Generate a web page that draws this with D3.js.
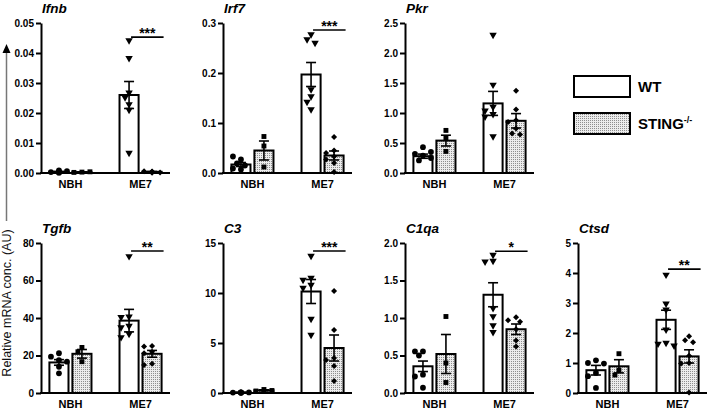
<!DOCTYPE html>
<html>
<head>
<meta charset="utf-8">
<script src="https://cdnjs.cloudflare.com/ajax/libs/d3/7.8.5/d3.min.js"></script>
<style>
  body { margin: 0; background: #fff; }
  svg { display: block; font-family: Arial, "Liberation Sans", sans-serif; }
</style>
</head>
<body>
<div id="chart"></div>
<script>
// qPCR panels, WT vs STING-/- mice, NBH vs ME7 prion
const GENES = ['Ifnb', 'Irf7', 'Pkr', 'Tgfb', 'C3', 'C1qa', 'Ctsd'];
const CONDITIONS = ['NBH', 'ME7'];
const GENOTYPES = ['WT', 'STING'];

const Y_MAX  = [0.05, 0.3, 2.5, 80, 15, 2.0, 5];
const Y_STEP = [0.01, 0.1, 0.5, 20, 5, 0.5, 1];
const Y_FMT  = ['.2f', '.1f', '.1f', 'd', 'd', '.1f', 'd'];

// each gene: [NBH WT, NBH STING, ME7 WT, ME7 STING]
const IFNB = [
  [0.0002, 0.0003, 0.0006, 0.0009, 0.0001, 0.0004],
  [0.0003, 0.0002, 0.0004],
  [0.0442, 0.0383, 0.0268, 0.0252, 0.0229, 0.0210, 0.0067],
  [0.0004, 0.0006, 0.0002, 0.0003, 0.0005, 0.0001]
];
const IRF7 = [
  [0.027, 0.033, 0.019, 0.015, 0.009, 0.007],
  [0.073, 0.054, 0.012],
  [0.277, 0.267, 0.260, 0.167, 0.153, 0.142, 0.127],
  [0.072, 0.045, 0.040, 0.033, 0.027, 0.020, 0.002]
];
const PKR = [
  [0.43, 0.29, 0.32, 0.35, 0.21, 0.25],
  [0.71, 0.585, 0.36],
  [2.30, 1.47, 1.10, 1.04, 0.98, 0.94, 0.61],
  [1.37, 1.06, 0.88, 0.85, 0.74, 0.66, 0.64]
];
const TGFB = [
  [21.2, 19.4, 17.5, 16.7, 14.0, 10.5],
  [24.3, 22.0, 16.7],
  [72.9, 40.7, 40.4, 35.8, 35.0, 31.5, 29.7],
  [25.1, 24.8, 22.0, 21.2, 15.6, 15.0]
];
const C3 = [
  [0.05, 0.04, 0.06, 0.03, 0.05, 0.04],
  [0.35, 0.20, 0.25],
  [13.7, 11.5, 11.3, 10.8, 10.5, 7.4, 5.8],
  [10.2, 6.3, 3.5, 3.3, 2.7, 1.2]
];
const C1QA = [
  [0.555, 0.555, 0.50, 0.245, 0.22, 0.07],
  [1.02, 0.40, 0.14],
  [1.84, 1.76, 1.75, 1.13, 1.02, 0.90, 0.81],
  [1.01, 0.97, 0.95, 0.85, 0.62, 0.70]
];
const CTSD = [
  [1.09, 1.00, 0.98, 0.67, 0.56, 0.17],
  [1.31, 0.76, 0.60],
  [3.94, 2.98, 2.78, 2.11, 1.67, 1.64, 1.58],
  [1.89, 1.76, 1.69, 1.24, 1.00, 0.98, 0.02]
];
const POINTS = [IFNB, IRF7, PKR, TGFB, C3, C1QA, CTSD];

// bar heights (mean) and SEM
const MEANS = [
  [0.0004, 0.0003, 0.026, 0.0004],
  [0.017, 0.045, 0.197, 0.035],
  [0.28, 0.54, 1.16, 0.87],
  [16.3, 20.9, 38.6, 20.9],
  [0.05, 0.27, 10.15, 4.5],
  [0.356, 0.52, 1.31, 0.85],
  [0.76, 0.89, 2.44, 1.22]
];
const SEMS = [
  [0.0001, 0.0001, 0.0045, 0.0001],
  [0.004, 0.019, 0.024, 0.009],
  [0.035, 0.09, 0.20, 0.12],
  [1.5, 2.3, 6.0, 1.8],
  [0.005, 0.05, 1.2, 1.3],
  [0.07, 0.26, 0.16, 0.07],
  [0.16, 0.22, 0.32, 0.22]
];

// significance label and its line height (data units), null = none
const SIG_LABEL = ['***', '***', null, '**', '***', '*', '**'];
const SIG_Y     = [0.0453, 0.286, null, 75.7, 14.2, 1.89, 4.13];

const COL_X = [41, 223, 405, 578];
const ROW_TOP = [23, 243];
const PH = 150;     // plot height
const PW = 129;     // x axis length

// circle, square, down triangle, diamond (square turned 45deg)
const SYMBOLS = [d3.symbolCircle, d3.symbolSquare, d3.symbolTriangle, d3.symbolSquare];
const SYM_SIZE = [26, 24, 24, 18];
const SYM_ROT = [0, 0, 180, 45];

const svg = d3.select('#chart').append('svg').attr('width', 709).attr('height', 410);

const pat = svg.append('defs').append('pattern')
  .attr('id', 'stipple').attr('width', 2).attr('height', 2)
  .attr('patternUnits', 'userSpaceOnUse');
pat.append('rect').attr('width', 2).attr('height', 2).attr('fill', '#ececec');
pat.append('rect').attr('width', 1).attr('height', 1).attr('fill', '#8e8e8e');

// deterministic scatter: nudge sideways until no overlap with earlier points
function spread(vals, y) {
  const placed = [];
  const offs = [0, -4, 4, -8, 8, -12, 12];
  return vals.map(v => {
    const py = y(v);
    let dx = 0;
    for (const o of offs) {
      if (placed.every(p => Math.hypot(p.dx - o, p.py - py) >= 5.5)) { dx = o; break; }
    }
    placed.push({ dx, py });
    return { v, dx };
  });
}

GENES.forEach((gene, gi) => {
  const row = gi < 3 ? 0 : 1;
  const col = gi < 3 ? gi : gi - 3;
  const g = svg.append('g').attr('transform', `translate(${COL_X[col]},${ROW_TOP[row]})`);

  const y = d3.scaleLinear().domain([0, Y_MAX[gi]]).range([PH, 0]);
  const xOuter = d3.scaleBand().domain(CONDITIONS).range([0, PW]).paddingInner(0.4).paddingOuter(0.12);
  const xInner = d3.scaleBand().domain(GENOTYPES).range([0, xOuter.bandwidth()]).paddingInner(0.17);

  // title
  g.append('text').attr('x', 1).attr('y', -10)
    .attr('font-size', 13.5).attr('font-weight', 'bold').attr('font-style', 'italic')
    .text(gene);

  const groups = [];
  CONDITIONS.forEach((c, ci) => GENOTYPES.forEach((gt, ti) => {
    const k = ci * 2 + ti;
    groups.push({ k, c, gt, x: xOuter(c) + xInner(gt), mean: MEANS[gi][k], sem: SEMS[gi][k], pts: POINTS[gi][k] });
  }));
  const bw = xInner.bandwidth();

  // bars
  g.selectAll('rect.bar').data(groups).enter().append('rect')
    .attr('class', 'bar')
    .attr('x', d => d.x).attr('width', bw)
    .attr('y', d => y(d.mean)).attr('height', d => PH - y(d.mean))
    .attr('fill', d => d.gt === 'WT' ? '#fff' : 'url(#stipple)')
    .attr('stroke', '#000').attr('stroke-width', 2);

  // error bars
  const eb = g.selectAll('g.err').data(groups).enter().append('g').attr('class', 'err')
    .attr('stroke', '#000').attr('stroke-width', 1.6);
  eb.append('line')
    .attr('x1', d => d.x + bw / 2).attr('x2', d => d.x + bw / 2)
    .attr('y1', d => y(Math.max(0, d.mean - d.sem))).attr('y2', d => y(d.mean + d.sem));
  eb.append('line')
    .attr('x1', d => d.x + bw / 2 - 5).attr('x2', d => d.x + bw / 2 + 5)
    .attr('y1', d => y(d.mean + d.sem)).attr('y2', d => y(d.mean + d.sem));
  eb.append('line')
    .attr('x1', d => d.x + bw / 2 - 5).attr('x2', d => d.x + bw / 2 + 5)
    .attr('y1', d => y(Math.max(0, d.mean - d.sem))).attr('y2', d => y(Math.max(0, d.mean - d.sem)));

  // points
  groups.forEach(d => {
    const sym = d3.symbol().type(SYMBOLS[d.k]).size(SYM_SIZE[d.k]);
    g.selectAll(null).data(spread(d.pts, y)).enter().append('path')
      .attr('d', sym)
      .attr('transform', p => `translate(${d.x + bw / 2 + p.dx},${y(p.v)}) rotate(${SYM_ROT[d.k]})`)
      .attr('fill', '#000');
  });

  // y axis
  const ticks = d3.range(0, Y_MAX[gi] + Y_STEP[gi] / 2, Y_STEP[gi]);
  const ax = g.append('g')
    .call(d3.axisLeft(y).tickValues(ticks).tickFormat(d3.format(Y_FMT[gi])).tickSize(5).tickSizeOuter(0).tickPadding(2));
  ax.select('.domain').attr('stroke-width', 2);
  ax.selectAll('.tick line').attr('stroke-width', 2);
  ax.selectAll('.tick text').attr('font-size', 10).attr('font-weight', 'bold')
    .attr('font-family', 'Arial, "Liberation Sans", sans-serif').attr('fill', '#000');

  // x axis
  g.append('line').attr('x1', -1).attr('x2', PW).attr('y1', PH).attr('y2', PH)
    .attr('stroke', '#000').attr('stroke-width', 2);
  g.selectAll('text.cat').data(CONDITIONS).enter().append('text')
    .attr('class', 'cat')
    .attr('x', c => xOuter(c) + xOuter.bandwidth() / 2).attr('y', PH + 15)
    .attr('text-anchor', 'middle').attr('font-size', 11).attr('font-weight', 'bold')
    .text(c => c);

  // significance
  if (SIG_LABEL[gi]) {
    const xa = xOuter('ME7') + xInner('WT') + bw / 2 + 2;
    const xb = xOuter('ME7') + xInner('STING') + bw + 2;
    const sy = y(SIG_Y[gi]);
    g.append('line').attr('x1', xa).attr('x2', xb).attr('y1', sy).attr('y2', sy)
      .attr('stroke', '#000').attr('stroke-width', 1.6);
    g.append('text').attr('x', (xa + xb) / 2).attr('y', sy + 1)
      .attr('text-anchor', 'middle').attr('font-size', 14).attr('font-weight', 'bold')
      .text(SIG_LABEL[gi]);
  }
});

// shared y label with arrow
svg.append('line').attr('x1', 6.5).attr('x2', 6.5).attr('y1', 221).attr('y2', 52)
  .attr('stroke', '#777').attr('stroke-width', 1.5);
svg.append('path').attr('d', 'M6.5,44 L2.5,53 L10.5,53 Z').attr('fill', '#000');
svg.append('text').attr('transform', 'translate(10.5,303) rotate(-90)')
  .attr('text-anchor', 'middle').attr('font-size', 12.5).attr('fill', '#111')
  .text('Relative mRNA conc. (AU)');

// legend
const LEG_LABELS = ['WT', 'STING'];
const leg = svg.append('g');
LEG_LABELS.forEach((lab, i) => {
  const ly = 76 + i * 37;
  leg.append('rect').attr('x', 574).attr('y', ly).attr('width', 56).attr('height', 21)
    .attr('fill', i === 0 ? '#fff' : 'url(#stipple)').attr('stroke', '#000').attr('stroke-width', 2);
  const t = leg.append('text').attr('x', 638).attr('y', ly + 16)
    .attr('font-size', 15).attr('font-weight', 'bold').text(lab);
  if (i === 1) t.append('tspan').attr('dy', -6).attr('font-size', 9).text('-/-');
});
</script>
</body>
</html>
